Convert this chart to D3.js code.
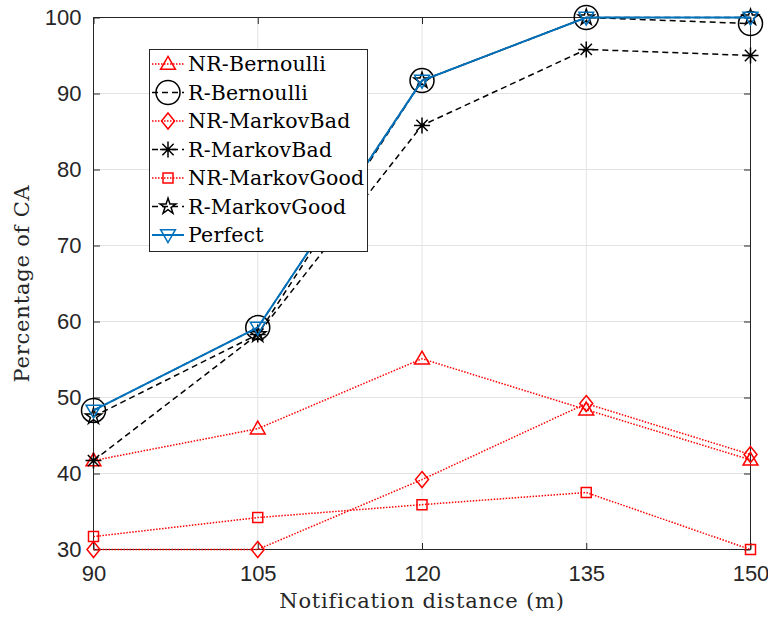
<!DOCTYPE html>
<html>
<head>
<meta charset="utf-8">
<script src="https://cdn.jsdelivr.net/npm/d3@7"></script>
<style>
  html, body { margin: 0; padding: 0; background: #fff; }
  svg { display: block; }
</style>
</head>
<body>
<svg id="chart" width="768" height="617"></svg>
<script>
// ---------------- DATA ----------------
const distances = [90, 105, 120, 135, 150];
const xTicks = [90, 105, 120, 135, 150];
const yTicks = [30, 40, 50, 60, 70, 80, 90, 100];

const nrBernoulli   = [41.7, 45.9, 55.1, 48.4, 41.8];
const rBernoulli    = [48.3, 59.2, 91.7, 100.0, 99.2];
const nrMarkovBad   = [30.0, 30.0, 39.2, 49.2, 42.5];
const rMarkovBad    = [41.7, 58.3, 85.8, 95.8, 95.0];
const nrMarkovGood  = [31.7, 34.2, 35.9, 37.5, 30.0];
const rMarkovGood   = [47.5, 58.3, 91.7, 100.0, 100.0];
const perfect       = [48.3, 59.2, 91.7, 100.0, 100.0];

const seriesNames = ["NR-Bernoulli", "R-Bernoulli", "NR-MarkovBad", "R-MarkovBad",
                     "NR-MarkovGood", "R-MarkovGood", "Perfect"];
const seriesValues = [nrBernoulli, rBernoulli, nrMarkovBad, rMarkovBad,
                      nrMarkovGood, rMarkovGood, perfect];

// ---------------- STYLE ----------------
const RED = "#ff0000", BLACK = "#000000", BLUE = "#0072bd";
const styles = [
  {color: RED,   dash: "1.5,1.5", width: 1.5, marker: "triangle"},
  {color: BLACK, dash: "6,4",     width: 1.5, marker: "circle"},
  {color: RED,   dash: "1.5,1.5", width: 1.5, marker: "diamond"},
  {color: BLACK, dash: "6,4",     width: 1.5, marker: "asterisk"},
  {color: RED,   dash: "1.5,1.5", width: 1.5, marker: "square"},
  {color: BLACK, dash: "6,4",     width: 1.5, marker: "star"},
  {color: BLUE,  dash: null,      width: 2,   marker: "triangleDown"}
];

const series = seriesNames.map((name, i) => ({
  name, style: styles[i],
  points: distances.map((d, j) => ({x: d, y: seriesValues[i][j]}))
}));

// ---------------- LAYOUT ----------------
const L = 93.5, R = 750.5, T = 17.5, B = 549.5;
const svg = d3.select("#chart");
const x = d3.scaleLinear().domain([90, 150]).range([L, R]);
const y = d3.scaleLinear().domain([30, 100]).range([B, T]);
const AX = "#262626";
const SANS = "'Liberation Sans', Arial, sans-serif";
const SERIF = "'DejaVu Serif', serif";
const SERIF_SIZE = "21px", SERIF_LS = "0.8px";

// grid
const grid = svg.append("g");
grid.selectAll("line.gx").data(xTicks).join("line")
  .attr("x1", d => x(d)).attr("x2", d => x(d)).attr("y1", T).attr("y2", B)
  .attr("stroke", "#e3e3e3").attr("stroke-width", 1);
grid.selectAll("line.gy").data(yTicks).join("line")
  .attr("y1", d => y(d)).attr("y2", d => y(d)).attr("x1", L).attr("x2", R)
  .attr("stroke", "#e3e3e3").attr("stroke-width", 1);

// axes (box with inward ticks)
const tk = 6.5;
const xAxisB = d3.axisBottom(x).tickValues(xTicks).tickSize(-tk).tickPadding(16).tickFormat(d3.format("d"));
const xAxisT = d3.axisTop(x).tickValues(xTicks).tickSize(-tk).tickFormat("");
const yAxisL = d3.axisLeft(y).tickValues(yTicks).tickSize(-tk).tickPadding(12).tickFormat(d3.format("d"));
const yAxisR = d3.axisRight(y).tickValues(yTicks).tickSize(-tk).tickFormat("");

function styleAxis(g) {
  g.select(".domain").attr("stroke", AX).attr("stroke-width", 1);
  g.selectAll(".tick line").attr("stroke", AX).attr("stroke-width", 1);
  g.selectAll(".tick text").attr("fill", AX).style("font-family", SANS).style("font-size", "22px");
}
svg.append("g").attr("transform", `translate(0,${B})`).call(xAxisB).call(g => g.select(".domain").attr("d", `M${L},0H${R}`)).call(styleAxis);
svg.append("g").attr("transform", `translate(0,${T})`).call(xAxisT).call(g => g.select(".domain").attr("d", `M${L},0H${R}`)).call(styleAxis);
svg.append("g").attr("transform", `translate(${L},0)`).call(yAxisL).call(g => g.select(".domain").attr("d", `M0,${T}V${B}`)).call(styleAxis);
svg.append("g").attr("transform", `translate(${R},0)`).call(yAxisR).call(g => g.select(".domain").attr("d", `M0,${T}V${B}`)).call(styleAxis);

// axis titles
svg.append("text").attr("x", (L + R) / 2).attr("y", 608).attr("text-anchor", "middle")
  .style("font-family", SERIF).style("font-size", SERIF_SIZE).style("letter-spacing", SERIF_LS).attr("fill", AX)
  .text("Notification distance (m)");
svg.append("text").attr("transform", `translate(29,${(T + B) / 2}) rotate(-90)`).attr("text-anchor", "middle")
  .style("font-family", SERIF).style("font-size", SERIF_SIZE).style("letter-spacing", SERIF_LS).attr("fill", AX)
  .text("Percentage of CA");

// ---------------- MARKERS ----------------
function drawMarker(g, type, color) {
  const common = s => s.attr("fill", "none").attr("stroke", color).attr("stroke-width", 1.5);
  if (type === "circle") {
    g.append("circle").attr("r", 12).call(common);
  } else if (type === "triangle") {
    g.append("path").attr("d", d3.symbol(d3.symbolTriangle, 95)()).attr("transform", "translate(0,1)").call(common);
  } else if (type === "triangleDown") {
    g.append("path").attr("d", d3.symbol(d3.symbolTriangle, 95)()).attr("transform", "translate(0,-1) rotate(180)").call(common);
  } else if (type === "diamond") {
    g.append("path").attr("d", "M0,-8L6.5,0L0,8L-6.5,0Z").call(common);
  } else if (type === "square") {
    g.append("path").attr("d", d3.symbol(d3.symbolSquare, 100)()).call(common);
  } else if (type === "star") {
    g.append("path").attr("d", d3.symbol(d3.symbolStar, 80)()).call(common);
  } else if (type === "asterisk") {
    const r = 8, q = r * Math.SQRT1_2;
    g.append("path").attr("d", `M${-r},0H${r}M0,${-r}V${r}M${-q},${-q}L${q},${q}M${-q},${q}L${q},${-q}`).call(common);
  }
}

const line = d3.line().x(d => x(d.x)).y(d => y(d.y));
const plot = svg.append("g");
series.forEach(s => {
  const g = plot.append("g");
  g.append("path").datum(s.points).attr("d", line)
    .attr("fill", "none").attr("stroke", s.style.color).attr("stroke-width", s.style.width)
    .attr("stroke-dasharray", s.style.dash);
  g.selectAll("g.m").data(s.points).join("g")
    .attr("transform", d => `translate(${x(d.x)},${y(d.y)})`)
    .each(function() { drawMarker(d3.select(this), s.style.marker, s.style.color); });
});

// ---------------- LEGEND ----------------
const lg = svg.append("g");
lg.append("rect").attr("x", 149.5).attr("y", 49.5).attr("width", 218).attr("height", 202)
  .attr("fill", "#fff").attr("stroke", AX).attr("stroke-width", 1);
series.forEach((s, i) => {
  const cy = 64 + i * 28.5;
  const row = lg.append("g").attr("transform", `translate(0,${cy})`);
  row.append("line").attr("x1", 152).attr("x2", 184).attr("y1", 0).attr("y2", 0)
    .attr("stroke", s.style.color).attr("stroke-width", s.style.width).attr("stroke-dasharray", s.style.dash);
  const m = row.append("g").attr("transform", "translate(168,0)");
  drawMarker(m, s.style.marker, s.style.color);
  row.append("text").attr("x", 188).attr("y", 0).attr("dy", "0.36em")
    .style("font-family", SERIF).style("font-size", "20.5px").style("letter-spacing", "0.2px").attr("fill", "#000")
    .text(s.name);
});
</script>
</body>
</html>
